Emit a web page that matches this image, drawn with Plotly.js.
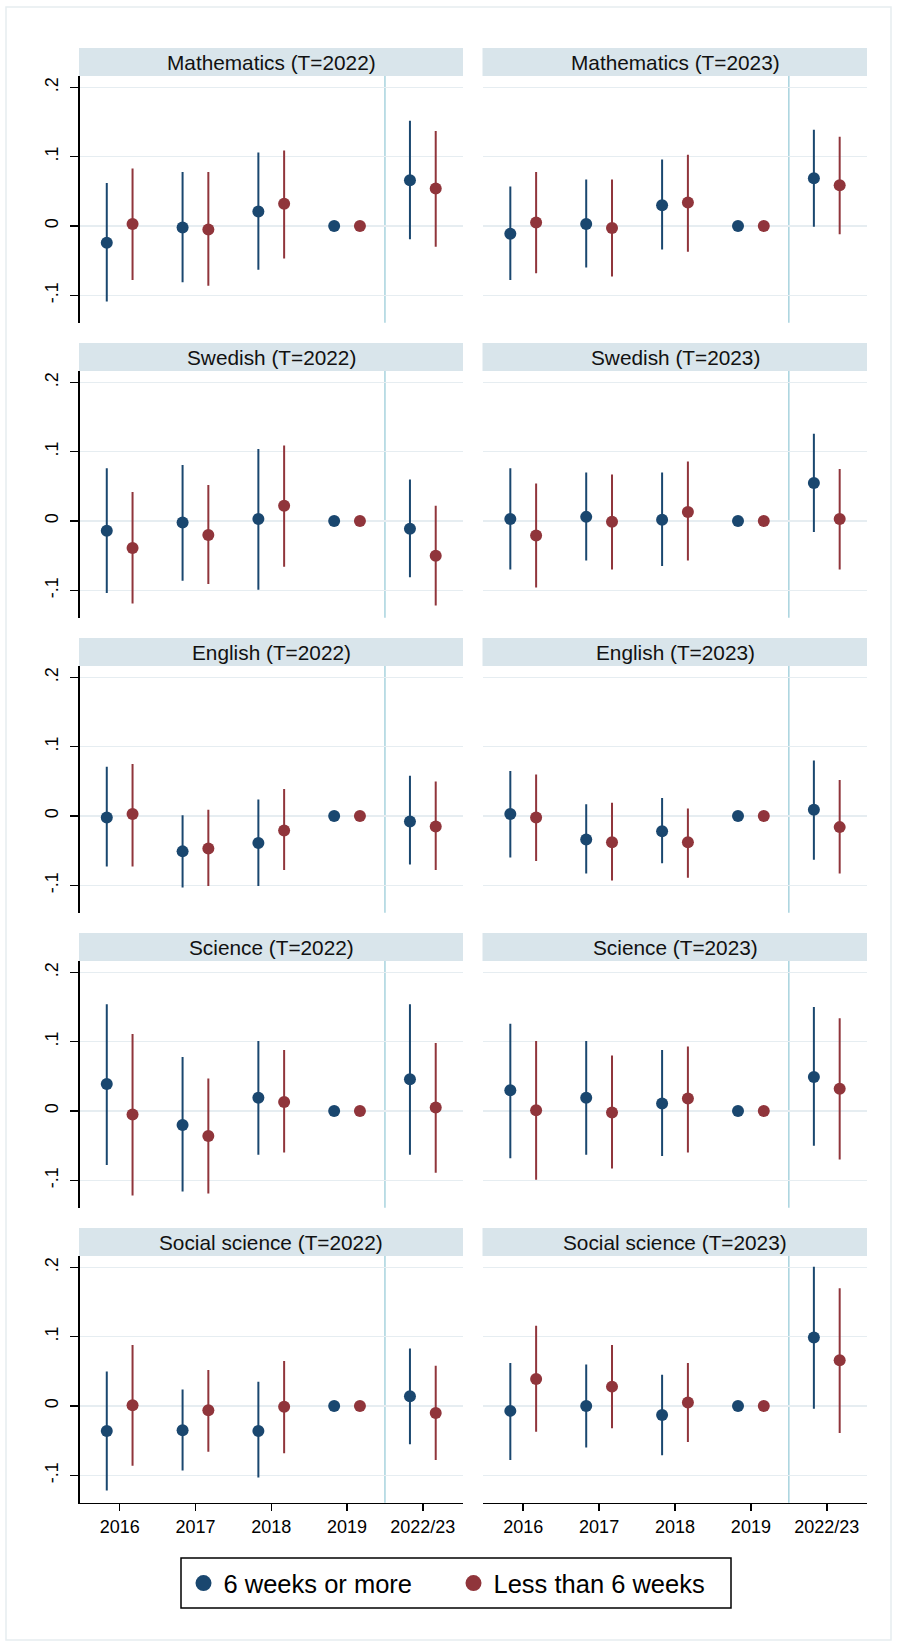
<!DOCTYPE html>
<html>
<head>
<meta charset="utf-8">
<script src="https://cdn.plot.ly/plotly-3.0.1.min.js"></script>
<style>html,body{margin:0;padding:0;background:#fff;}#chart{width:897px;height:1646px;}</style>
</head>
<body>
<div id="chart"></div>
<script>
// ---------------- DATA ----------------
const categories = ['2016', '2017', '2018', '2019', '2022/23'];
const subjects = ['Mathematics', 'Swedish', 'English', 'Science', 'Social science'];
const cohorts = ['2022', '2023'];
const seriesNames = ['6 weeks or more', 'Less than 6 weeks'];

// Mathematics
const math22_long_est = [-0.024, -0.002, 0.021, 0, 0.066];
const math22_long_lo  = [-0.109, -0.081, -0.063, 0, -0.019];
const math22_long_hi  = [0.062, 0.078, 0.106, 0, 0.152];
const math22_short_est = [0.003, -0.005, 0.032, 0, 0.054];
const math22_short_lo  = [-0.078, -0.086, -0.047, 0, -0.030];
const math22_short_hi  = [0.083, 0.078, 0.109, 0, 0.137];

const math23_long_est = [-0.011, 0.003, 0.030, 0, 0.069];
const math23_long_lo  = [-0.078, -0.060, -0.034, 0, -0.001];
const math23_long_hi  = [0.057, 0.067, 0.096, 0, 0.139];
const math23_short_est = [0.005, -0.003, 0.034, 0, 0.059];
const math23_short_lo  = [-0.068, -0.073, -0.037, 0, -0.012];
const math23_short_hi  = [0.078, 0.067, 0.103, 0, 0.129];

// Swedish
const swe22_long_est = [-0.014, -0.002, 0.003, 0, -0.011];
const swe22_long_lo  = [-0.104, -0.086, -0.099, 0, -0.081];
const swe22_long_hi  = [0.076, 0.081, 0.104, 0, 0.060];
const swe22_short_est = [-0.039, -0.020, 0.022, 0, -0.050];
const swe22_short_lo  = [-0.119, -0.091, -0.066, 0, -0.122];
const swe22_short_hi  = [0.042, 0.052, 0.109, 0, 0.022];

const swe23_long_est = [0.003, 0.006, 0.002, 0, 0.055];
const swe23_long_lo  = [-0.070, -0.057, -0.065, 0, -0.016];
const swe23_long_hi  = [0.076, 0.070, 0.070, 0, 0.126];
const swe23_short_est = [-0.021, -0.001, 0.013, 0, 0.003];
const swe23_short_lo  = [-0.096, -0.070, -0.057, 0, -0.070];
const swe23_short_hi  = [0.054, 0.067, 0.086, 0, 0.075];

// English
const eng22_long_est = [-0.002, -0.051, -0.039, 0, -0.008];
const eng22_long_lo  = [-0.073, -0.103, -0.101, 0, -0.070];
const eng22_long_hi  = [0.071, 0.001, 0.024, 0, 0.058];
const eng22_short_est = [0.003, -0.047, -0.021, 0, -0.015];
const eng22_short_lo  = [-0.073, -0.101, -0.078, 0, -0.078];
const eng22_short_hi  = [0.075, 0.009, 0.039, 0, 0.050];

const eng23_long_est = [0.003, -0.034, -0.022, 0, 0.009];
const eng23_long_lo  = [-0.060, -0.083, -0.068, 0, -0.063];
const eng23_long_hi  = [0.065, 0.017, 0.026, 0, 0.080];
const eng23_short_est = [-0.002, -0.038, -0.038, 0, -0.016];
const eng23_short_lo  = [-0.065, -0.093, -0.089, 0, -0.083];
const eng23_short_hi  = [0.060, 0.019, 0.011, 0, 0.052];

// Science
const sci22_long_est = [0.039, -0.020, 0.019, 0, 0.046];
const sci22_long_lo  = [-0.078, -0.116, -0.063, 0, -0.063];
const sci22_long_hi  = [0.154, 0.078, 0.101, 0, 0.154];
const sci22_short_est = [-0.005, -0.036, 0.013, 0, 0.005];
const sci22_short_lo  = [-0.122, -0.119, -0.060, 0, -0.089];
const sci22_short_hi  = [0.111, 0.047, 0.088, 0, 0.098];

const sci23_long_est = [0.030, 0.019, 0.011, 0, 0.049];
const sci23_long_lo  = [-0.068, -0.063, -0.065, 0, -0.050];
const sci23_long_hi  = [0.126, 0.101, 0.088, 0, 0.150];
const sci23_short_est = [0.001, -0.002, 0.018, 0, 0.032];
const sci23_short_lo  = [-0.099, -0.083, -0.060, 0, -0.070];
const sci23_short_hi  = [0.101, 0.080, 0.093, 0, 0.134];

// Social science
const soc22_long_est = [-0.036, -0.035, -0.036, 0, 0.014];
const soc22_long_lo  = [-0.122, -0.093, -0.103, 0, -0.055];
const soc22_long_hi  = [0.050, 0.024, 0.035, 0, 0.083];
const soc22_short_est = [0.001, -0.006, -0.001, 0, -0.010];
const soc22_short_lo  = [-0.086, -0.066, -0.068, 0, -0.078];
const soc22_short_hi  = [0.088, 0.052, 0.065, 0, 0.058];

const soc23_long_est = [-0.007, 0.000, -0.013, 0, 0.099];
const soc23_long_lo  = [-0.078, -0.060, -0.071, 0, -0.004];
const soc23_long_hi  = [0.062, 0.060, 0.045, 0, 0.201];
const soc23_short_est = [0.039, 0.028, 0.005, 0, 0.066];
const soc23_short_lo  = [-0.037, -0.032, -0.052, 0, -0.039];
const soc23_short_hi  = [0.116, 0.088, 0.062, 0, 0.170];

const yTickVals = [-0.1, 0, 0.1, 0.2];
const yTickText = ['-.1', '0', '.1', '.2'];

// ---------------- ASSEMBLY ----------------
const panels = [
  [[math22_long_est, math22_long_lo, math22_long_hi], [math22_short_est, math22_short_lo, math22_short_hi]],
  [[math23_long_est, math23_long_lo, math23_long_hi], [math23_short_est, math23_short_lo, math23_short_hi]],
  [[swe22_long_est, swe22_long_lo, swe22_long_hi], [swe22_short_est, swe22_short_lo, swe22_short_hi]],
  [[swe23_long_est, swe23_long_lo, swe23_long_hi], [swe23_short_est, swe23_short_lo, swe23_short_hi]],
  [[eng22_long_est, eng22_long_lo, eng22_long_hi], [eng22_short_est, eng22_short_lo, eng22_short_hi]],
  [[eng23_long_est, eng23_long_lo, eng23_long_hi], [eng23_short_est, eng23_short_lo, eng23_short_hi]],
  [[sci22_long_est, sci22_long_lo, sci22_long_hi], [sci22_short_est, sci22_short_lo, sci22_short_hi]],
  [[sci23_long_est, sci23_long_lo, sci23_long_hi], [sci23_short_est, sci23_short_lo, sci23_short_hi]],
  [[soc22_long_est, soc22_long_lo, soc22_long_hi], [soc22_short_est, soc22_short_lo, soc22_short_hi]],
  [[soc23_long_est, soc23_long_lo, soc23_long_hi], [soc23_short_est, soc23_short_lo, soc23_short_hi]]
];

const W = 897, H = 1646;
const FONT = 'Liberation Sans, Arial, sans-serif';
const colors = ['#1a476f', '#90353b'];
const dodge = [-0.17, 0.17];
const cols = [[79.5, 463], [483, 867]];
const rowTop0 = 76, rowH = 246.7, rowStep = 295, stripH = 28;
const xRange = [0.47, 5.53];
const yRange = [-0.1395, 0.2165];
const catPos = categories.map((c, i) => i + 1);

const traces = [];
const layout = {
  width: W, height: H,
  margin: {l: 0, r: 0, t: 0, b: 0},
  paper_bgcolor: '#ffffff', plot_bgcolor: '#ffffff',
  font: {family: FONT, color: '#000000'},
  showlegend: true,
  legend: {
    orientation: 'h', x: 183.5 / W, xanchor: 'left',
    y: 1 - 1583.5 / H, yanchor: 'middle',
    bgcolor: 'rgba(0,0,0,0)', borderwidth: 0,
    font: {family: FONT, size: 25.5, color: '#000000'},
    entrywidth: 225, entrywidthmode: 'pixels', itemclick: false
  },
  shapes: [], annotations: []
};

// outer frame
layout.shapes.push({type: 'rect', xref: 'paper', yref: 'paper', x0: 6 / W, x1: 891 / W,
  y0: 1 - 1640 / H, y1: 1 - 7 / H, line: {color: '#e6edf0', width: 1.5}, layer: 'below'});
// legend box
layout.shapes.push({type: 'rect', xref: 'paper', yref: 'paper', x0: 181 / W, x1: 731 / W,
  y0: 1 - 1608 / H, y1: 1 - 1558 / H, line: {color: '#000000', width: 1.5}});

panels.forEach((panel, p) => {
  const r = Math.floor(p / 2), c = p % 2, k = p + 1;
  const top = rowTop0 + r * rowStep, bot = top + rowH;
  const xa = 'xaxis' + (k === 1 ? '' : k), ya = 'yaxis' + (k === 1 ? '' : k);
  const xr = 'x' + (k === 1 ? '' : k), yr = 'y' + (k === 1 ? '' : k);
  const isBottom = r === 4, isLeft = c === 0;
  layout[xa] = {
    domain: [cols[c][0] / W, cols[c][1] / W], range: xRange, anchor: yr,
    tickvals: catPos, ticktext: categories, showgrid: false, zeroline: false,
    showline: isBottom, linecolor: '#000000', linewidth: 1.7,
    ticks: isBottom ? 'outside' : '', ticklen: 7, tickwidth: 1.5, tickcolor: '#000000',
    showticklabels: isBottom, tickfont: {family: FONT, size: 18, color: '#000000'},
    fixedrange: true
  };
  layout[ya] = {
    domain: [1 - bot / H, 1 - top / H], range: yRange, anchor: xr,
    tickvals: yTickVals, ticktext: yTickText, tickangle: -90,
    showgrid: true, gridcolor: '#e6edf1', gridwidth: 1.3, zeroline: false,
    showline: isLeft, linecolor: '#000000', linewidth: 1.7,
    ticks: isLeft ? 'outside' : '', ticklen: 8, tickwidth: 1.5, tickcolor: '#000000',
    showticklabels: isLeft, tickfont: {family: FONT, size: 18, color: '#000000'},
    ticklabelstandoff: 5, fixedrange: true
  };
  // strip
  layout.shapes.push({type: 'rect', xref: 'paper', yref: 'paper',
    x0: cols[c][0] / W - 0.5 / W, x1: cols[c][1] / W, y0: 1 - top / H, y1: 1 - (top - stripH) / H,
    fillcolor: '#d9e5eb', line: {width: 0}});
  layout.annotations.push({xref: 'paper', yref: 'paper',
    x: (cols[c][0] + cols[c][1]) / 2 / W, y: 1 - (top - stripH / 2) / H,
    xanchor: 'center', yanchor: 'middle', showarrow: false,
    text: subjects[r] + ' (T=' + cohorts[c] + ')',
    font: {family: FONT, size: 20.8, color: '#111111'}});
  // zero reference line
  layout.shapes.push({type: 'line', xref: xr + ' domain', yref: yr, x0: 0, x1: 1, y0: 0, y1: 0,
    line: {color: '#62cbc1', width: 2, dash: '18px,5px'}, layer: 'below'});
  // vertical separator
  layout.shapes.push({type: 'line', xref: xr, yref: yr + ' domain', x0: 4.5, x1: 4.5, y0: 0, y1: 1,
    line: {color: '#a8d3de', width: 1.5}, layer: 'below'});

  panel.forEach((s, si) => {
    const est = s[0], lo = s[1], hi = s[2];
    traces.push({
      type: 'scatter', mode: 'markers', xaxis: xr, yaxis: yr,
      x: catPos.map(v => v + dodge[si]), y: est,
      marker: {color: colors[si], size: 12, symbol: 'circle', line: {width: 0}},
      error_y: {type: 'data', symmetric: false,
        array: hi.map((h, i) => h - est[i]), arrayminus: lo.map((l, i) => est[i] - l),
        color: colors[si], thickness: 2, width: 0},
      showlegend: false, hoverinfo: 'skip', name: seriesNames[si]
    });
  });
});

// legend entries
seriesNames.forEach((nm, si) => {
  traces.push({type: 'scatter', mode: 'markers', x: [null], y: [null], name: nm,
    marker: {color: colors[si], size: 16, symbol: 'circle'}, showlegend: true, hoverinfo: 'skip'});
});

Plotly.newPlot('chart', traces, layout, {staticPlot: true, displayModeBar: false});
</script>
</body>
</html>
